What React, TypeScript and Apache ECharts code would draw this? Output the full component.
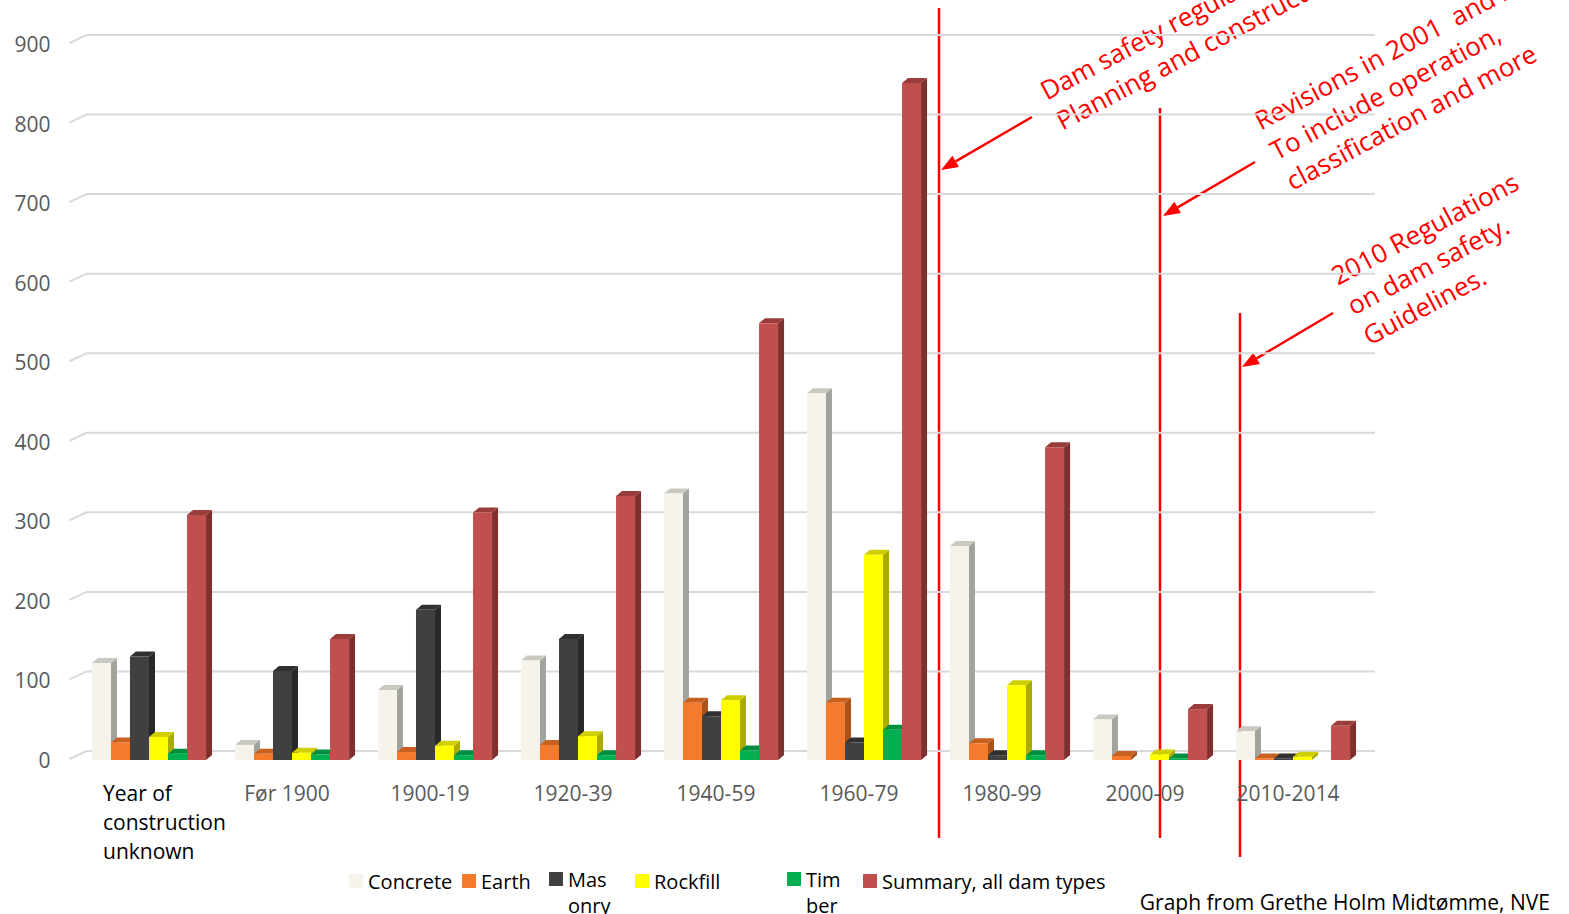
import { useEffect, useRef } from 'react';
import * as echarts from 'echarts';

// Construction period of Norwegian dams, counted by dam type
const categories = ['Year of construction unknown', 'Før 1900', '1900-19', '1920-39', '1940-59', '1960-79', '1980-99', '2000-09', '2010-2014'];
const concrete = [122, 19, 88, 125, 335, 461, 269, 51, 36];
const earth = [22, 8, 10, 19, 72, 72, 21, 5, 2];
const masonry = [130, 112, 189, 152, 55, 22, 6, 0, 2];
const rockfill = [29, 9, 18, 30, 75, 258, 94, 7, 4];
const timber = [8, 7, 6, 6, 12, 38, 6, 2, 0];
const summary = [308, 152, 311, 332, 549, 851, 393, 64, 43];
const yTicks = [0, 100, 200, 300, 400, 500, 600, 700, 800, 900];

const FONT = '"Open Sans", "Noto Sans", sans-serif';
const DX = 6;
const DY = 5;

type Shade = { front: string; side: string; top: string };

const seriesDefs: { name: string; data: number[]; shade: Shade; legendLabel: string }[] = [
  { name: 'Concrete', data: concrete, shade: { front: '#F5F3EC', side: '#A3A39E', top: '#C9C8C1' }, legendLabel: 'Concrete' },
  { name: 'Earth', data: earth, shade: { front: '#F47B2C', side: '#A9521C', top: '#C8601F' }, legendLabel: 'Earth' },
  { name: 'Masonry', data: masonry, shade: { front: '#404040', side: '#292929', top: '#303030' }, legendLabel: '\nMas\nonry' },
  { name: 'Rockfill', data: rockfill, shade: { front: '#FFFF00', side: '#ABAB00', top: '#CFCF00' }, legendLabel: 'Rockfill' },
  { name: 'Timber', data: timber, shade: { front: '#00B050', side: '#007A37', top: '#008F40' }, legendLabel: '\nTim\nber' },
  { name: 'Summary, all dam types', data: summary, shade: { front: '#C0504D', side: '#7E302E', top: '#9A3C39' }, legendLabel: 'Summary, all dam types' },
];

const legendLeft = [349, 462, 549, 635, 787, 863];

function barRenderer(idx: number, shade: Shade) {
  return (params: any, api: any) => {
    const cat = api.value(0);
    const v = api.value(1);
    if (!v) return { type: 'group', children: [] };
    const base = api.coord([cat, 0]);
    const top = api.coord([cat, v]);
    const band = api.size([1, 0])[0];
    const w = band * 0.133;
    const x0 = base[0] - 3 * w + idx * w;
    const x1 = x0 + w;
    const yT = top[1];
    const yB = base[1];
    return {
      type: 'group',
      children: [
        { type: 'polygon', shape: { points: [[x1, yT], [x1 + DX, yT - DY], [x1 + DX, yB - DY], [x1, yB]] }, style: { fill: shade.side } },
        { type: 'polygon', shape: { points: [[x0, yT], [x0 + DX, yT - DY], [x1 + DX, yT - DY], [x1, yT]] }, style: { fill: shade.top } },
        { type: 'rect', shape: { x: x0, y: yT, width: w, height: yB - yT }, style: { fill: shade.front } },
      ],
    };
  };
}

// Back-wall gridlines with the short slanted floor edge at the left
function gridRenderer(params: any, api: any) {
  const v = api.value(1);
  const p = api.coord([0, v]);
  const cs = params.coordSys;
  const yb = p[1] - 9;
  return {
    type: 'polyline',
    silent: true,
    shape: { points: [[cs.x - 8, yb + 8], [cs.x + 9, yb], [cs.x + cs.width + 10.5, yb]] },
    style: { stroke: '#D9D9D9', lineWidth: 2, fill: null },
  };
}

function arrow(x1: number, y1: number, x2: number, y2: number) {
  const ang = Math.atan2(y2 - y1, x2 - x1);
  const len = 17;
  const hw = 6.5;
  const bx = x2 - len * Math.cos(ang);
  const by = y2 - len * Math.sin(ang);
  const nx = -Math.sin(ang);
  const ny = Math.cos(ang);
  return [
    { type: 'line', shape: { x1, y1, x2: bx, y2: by }, style: { stroke: '#FF0000', lineWidth: 2.5 } },
    { type: 'polygon', shape: { points: [[x2, y2], [bx + nx * hw, by + ny * hw], [bx - nx * hw, by - ny * hw]] }, style: { fill: '#FF0000' } },
  ];
}

const ROT = (28 * Math.PI) / 180;

function note(x: number, y: number, text: string) {
  return {
    type: 'text',
    x,
    y,
    rotation: ROT,
    style: { text, fill: '#FF0000', fontSize: 26, fontFamily: FONT, lineHeight: 34, align: 'left', verticalAlign: 'top' },
  };
}

export default function App() {
  const ref = useRef<HTMLDivElement>(null);

  useEffect(() => {
    if (!ref.current) return;
    const chart = echarts.init(ref.current, null, { renderer: 'svg' });

    const legends = seriesDefs.map((s, i) => ({
      left: legendLeft[i],
      top: s.legendLabel.startsWith('\n') ? 840 : 868,
      padding: 0,
      icon: 'rect',
      itemWidth: 14,
      itemHeight: 14,
      selectedMode: false,
      data: [{ name: s.name, itemStyle: { color: s.shade.front } }],
      formatter: () => s.legendLabel,
      textStyle: { fontFamily: FONT, fontSize: 20, color: '#000', lineHeight: 26 },
    }));

    const option: any = {
      animation: false,
      backgroundColor: '#FFFFFF',
      grid: { left: 77.5, right: 1569 - 1364.5, top: 44, bottom: 154 },
      xAxis: {
        type: 'category',
        data: categories,
        axisLine: { show: false },
        axisTick: { show: false },
        axisLabel: {
          interval: 0,
          margin: 18,
          padding: [0, 10, 0, 0],
          fontFamily: FONT,
          fontSize: 21,
          lineHeight: 29,
          color: '#595959',
          formatter: (value: string, index: number) =>
            index === 0 ? '{u|Year of}\n{u|construction}\n{u|unknown}' : value,
          rich: {
            u: { width: 128, align: 'left', padding: [0, 0, 0, 46], color: '#000', fontFamily: FONT, fontSize: 21, lineHeight: 29 },
          },
        },
      },
      yAxis: {
        type: 'value',
        min: 0,
        max: 900,
        interval: 100,
        axisLine: { show: false },
        axisTick: { show: false },
        splitLine: { show: false },
        axisLabel: { margin: 27, padding: [4, 0, 0, 0], fontFamily: FONT, fontSize: 21, color: '#595959' },
      },
      legend: legends,
      series: [
        {
          type: 'custom',
          name: 'gridlines',
          silent: true,
          renderItem: gridRenderer,
          data: yTicks.map((v) => [0, v]),
          encode: { x: 0, y: 1 },
          z: 1,
        },
        ...seriesDefs.map((s, i) => ({
          type: 'custom',
          name: s.name,
          itemStyle: { color: s.shade.front },
          renderItem: barRenderer(i, s.shade),
          data: s.data.map((v, c) => [c, v]),
          encode: { x: 0, y: 1 },
          z: 2,
        })),
      ],
      graphic: [
        { type: 'line', shape: { x1: 939, y1: 8, x2: 939, y2: 838 }, style: { stroke: '#FF0000', lineWidth: 2.5 } },
        { type: 'line', shape: { x1: 1160, y1: 108, x2: 1160, y2: 838 }, style: { stroke: '#FF0000', lineWidth: 2.5 } },
        { type: 'line', shape: { x1: 1240, y1: 313, x2: 1240, y2: 857 }, style: { stroke: '#FF0000', lineWidth: 2.5 } },
        ...arrow(1032, 117, 941, 170),
        ...arrow(1255, 162, 1163, 216),
        ...arrow(1333, 313, 1242, 367),
        note(1034, 77, 'Dam safety regulations 1981\nPlanning and construction'),
        note(1248, 107, 'Revisions in 2001  and 2009\nTo include operation,\nclassification and more'),
        note(1325, 262, '2010 Regulations\non dam safety.\nGuidelines.'),
        {
          type: 'text',
          x: 1550,
          y: 902,
          style: { text: 'Graph from Grethe Holm Midtømme, NVE', fill: '#000', fontSize: 21, fontFamily: FONT, align: 'right', verticalAlign: 'middle' },
        },
      ],
    };

    chart.setOption(option);
    return () => chart.dispose();
  }, []);

  return <div ref={ref} style={{ position: 'fixed', left: 0, top: 0, width: 1569, height: 914, background: '#fff' }} />;
}
